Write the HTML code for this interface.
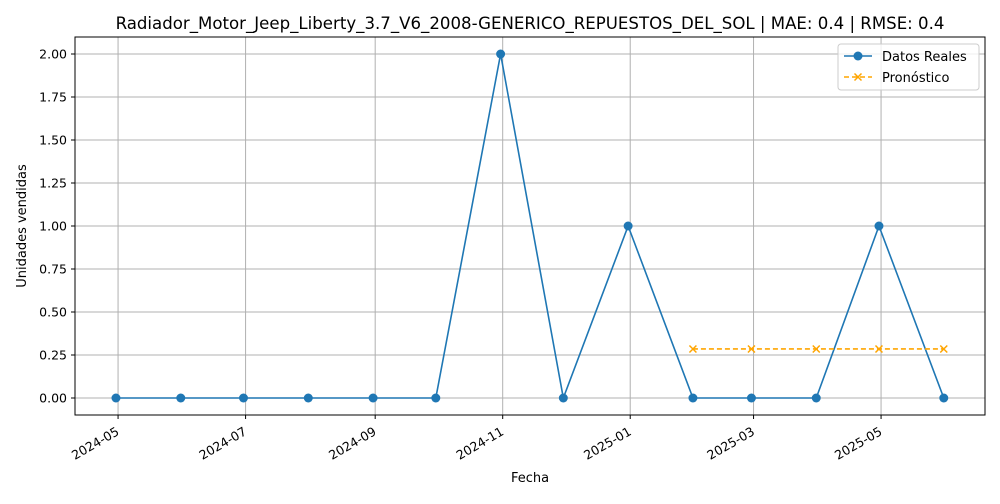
<!DOCTYPE html>
<html><head><meta charset="utf-8"><style>
body{margin:0;background:#fff;font-family:"DejaVu Sans","Liberation Sans",sans-serif}
svg text{font-family:"DejaVu Sans","Liberation Sans",sans-serif}
</style></head><body>
<svg id="chart" width="1000" height="500" xmlns="http://www.w3.org/2000/svg">
<rect width="1000" height="500" fill="#fff"/>
<g id="grid"></g>
<g id="series"></g>
<rect x="75" y="37" width="910" height="378" fill="none" stroke="#000" stroke-width="1"/>
<g id="axes"></g>
<text x="530" y="29" font-size="16.6" text-anchor="middle">Radiador_Motor_Jeep_Liberty_3.7_V6_2008-GENERICO_REPUESTOS_DEL_SOL | MAE: 0.4 | RMSE: 0.4</text>
<text x="530" y="482" font-size="13" text-anchor="middle">Fecha</text>
<text transform="translate(26,226) rotate(-90)" font-size="13" text-anchor="middle">Unidades vendidas</text>
<g>
<rect x="838" y="44" width="141" height="46" rx="3" fill="#fff" fill-opacity="0.8" stroke="#ccc"/>
<g>
<line x1="844" y1="56" x2="872" y2="56" stroke="#1f77b4" stroke-width="1.5"/>
<circle cx="858" cy="56" r="4.5" fill="#1f77b4"/>
<text x="882" y="61" font-size="13">Datos Reales</text></g>
<g>
<line x1="844" y1="77" x2="872" y2="77" stroke="orange" stroke-width="1.5" stroke-dasharray="5,3"/>
<path d="M854.5,73.5l7,7M861.5,73.5l-7,7" stroke="orange" stroke-width="1.5"/>
<text x="882" y="82" font-size="13">Pronóstico</text></g>
</g>
</svg>
<script>
const actualDates=["2024-04-30","2024-05-31","2024-06-30","2024-07-31","2024-08-31","2024-09-30","2024-10-31","2024-11-30","2024-12-31","2025-01-31","2025-02-28","2025-03-31","2025-04-30","2025-05-31"];
const actualValues=[0,0,0,0,0,0,2,0,1,0,0,0,1,0];
const forecastDates=["2025-01-31","2025-02-28","2025-03-31","2025-04-30","2025-05-31"];
const forecastValues=[0.285,0.285,0.285,0.285,0.285];
const yTicks=[0,0.25,0.5,0.75,1,1.25,1.5,1.75,2];
const xTicks=["2024-05","2024-07","2024-09","2024-11","2025-01","2025-03","2025-05"];

const NS="http://www.w3.org/2000/svg";
const day=86400000;
const t=s=>Date.parse(s.length==7?s+"-01":s);
const x0=t("2024-04-30")-19.6*day, pxPerDay=763/365;
const X=s=>75+(t(s)-x0)/day*pxPerDay;
const Y=v=>398-v*172;
function mk(tag,attrs,parent){const e=document.createElementNS(NS,tag);for(const k in attrs)e.setAttribute(k,attrs[k]);parent.appendChild(e);return e;}
const grid=document.getElementById('grid'),axes=document.getElementById('axes'),series=document.getElementById('series');
yTicks.forEach(v=>{
  const y=Y(v);
  const g=mk('line',{x1:75,x2:985,y1:y,y2:y,stroke:'#b0b0b0','stroke-width':1},grid);
  
  
  mk('line',{x1:71,x2:75,y1:y,y2:y,stroke:'#000'},axes);
  const tx=mk('text',{x:67,y:y+4.5,'font-size':12.5,'text-anchor':'end'},axes);
  tx.textContent=v.toFixed(2);
  
  
});
xTicks.forEach(s=>{
  const x=X(s);
  const g=mk('line',{x1:x,x2:x,y1:37,y2:415,stroke:'#b0b0b0','stroke-width':1},grid);
  
  
  mk('line',{x1:x,x2:x,y1:415,y2:419,stroke:'#000'},axes);
  const tx=mk('text',{transform:`translate(${x+2},${434}) rotate(-30)`,'font-size':12.5,'text-anchor':'end'},axes);
  tx.textContent=s;
  
  
});
const ap=actualDates.map((d,i)=>X(d)+','+Y(actualValues[i])).join(' ');
const al=mk('polyline',{points:ap,fill:'none',stroke:'#1f77b4','stroke-width':1.6},series);


actualDates.forEach((d,i)=>{
  const c=mk('circle',{cx:X(d),cy:Y(actualValues[i]),r:4.5,fill:'#1f77b4'},series);
  
  
});
const fp=forecastDates.map((d,i)=>X(d)+','+Y(forecastValues[i])).join(' ');
const fl=mk('polyline',{points:fp,fill:'none',stroke:'orange','stroke-width':1.6,'stroke-dasharray':'5,3'},series);


forecastDates.forEach((d,i)=>{
  const x=X(d),y=Y(forecastValues[i]);
  const p=mk('path',{d:`M${x-3.5},${y-3.5}l7,7M${x+3.5},${y-3.5}l-7,7`,stroke:'orange','stroke-width':1.5},series);
  
  
});
</script>
</body></html>
